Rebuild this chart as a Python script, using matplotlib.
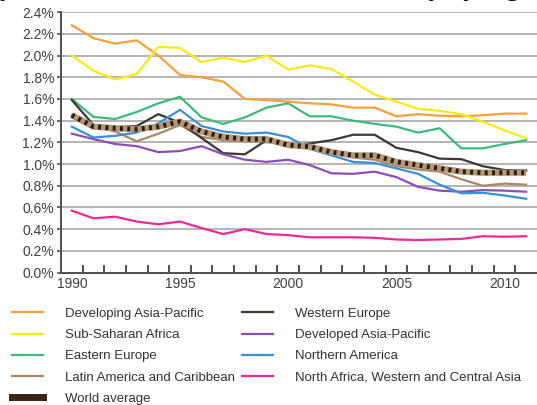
import matplotlib
matplotlib.use('Agg')
import matplotlib.pyplot as plt
from matplotlib.ticker import FixedLocator, FuncFormatter
from matplotlib.lines import Line2D

plt.rcParams['font.family'] = ['Liberation Sans', 'DejaVu Sans']

years = list(range(1990, 2012))

# intensity values, %
dev_asia = [2.28, 2.16, 2.11, 2.14, 2.00, 1.82, 1.80, 1.76, 1.60, 1.59, 1.575,
            1.56, 1.55, 1.52, 1.52, 1.44, 1.46, 1.445, 1.44, 1.45, 1.465, 1.465]
sub_sahara = [2.00, 1.86, 1.78, 1.83, 2.08, 2.07, 1.94, 1.98, 1.94, 2.00, 1.87,
              1.91, 1.875, 1.76, 1.64, 1.575, 1.51, 1.49, 1.46, 1.39, 1.31, 1.24]
east_europe = [1.60, 1.435, 1.415, 1.48, 1.56, 1.62, 1.43, 1.37, 1.43, 1.52, 1.56,
               1.44, 1.44, 1.40, 1.37, 1.345, 1.29, 1.33, 1.145, 1.145, 1.185, 1.22]
latin_am = [1.45, 1.35, 1.30, 1.21, 1.28, 1.36, 1.25, 1.22, 1.21, 1.20, 1.19,
            1.15, 1.11, 1.06, 1.04, 0.98, 0.95, 0.93, 0.86, 0.80, 0.82, 0.81]
west_europe = [1.59, 1.36, 1.34, 1.35, 1.46, 1.38, 1.24, 1.10, 1.09, 1.22, 1.17,
               1.19, 1.22, 1.27, 1.27, 1.15, 1.11, 1.05, 1.045, 0.98, 0.945, 0.94]
developed_asia = [1.28, 1.23, 1.185, 1.165, 1.11, 1.12, 1.165, 1.09, 1.04, 1.02, 1.04,
                  0.99, 0.915, 0.91, 0.93, 0.88, 0.79, 0.755, 0.745, 0.76, 0.755, 0.745]
north_am = [1.345, 1.245, 1.26, 1.29, 1.375, 1.50, 1.35, 1.30, 1.28, 1.29, 1.25,
            1.14, 1.08, 1.02, 1.01, 0.96, 0.91, 0.81, 0.73, 0.735, 0.71, 0.68]
n_africa = [0.57, 0.50, 0.515, 0.47, 0.445, 0.47, 0.41, 0.355, 0.40, 0.355, 0.345,
            0.325, 0.325, 0.325, 0.32, 0.305, 0.30, 0.305, 0.31, 0.335, 0.33, 0.335]
world = [1.45, 1.345, 1.33, 1.32, 1.345, 1.39, 1.30, 1.25, 1.23, 1.23, 1.175,
         1.16, 1.11, 1.08, 1.08, 1.02, 0.99, 0.96, 0.93, 0.92, 0.92, 0.92]

fig = plt.figure(figsize=(5.37, 4.05), dpi=100)
ax = fig.add_axes([0.1136, 0.327, 0.8864, 0.643])

# cut-off heading from the page above the chart
fig.text(0.0, 1.011, 'y been a reduction in emission intensity by region',
         family='Liberation Serif', weight='bold', fontsize=19, va='baseline')

lw = 1.6
series = [
    (dev_asia, '#f7a03c', 'Developing Asia-Pacific'),
    (sub_sahara, '#f6eb16', 'Sub-Saharan Africa'),
    (east_europe, '#3dba7c', 'Eastern Europe'),
    (latin_am, '#a88868', 'Latin America and Caribbean'),
    (west_europe, '#3c3834', 'Western Europe'),
    (developed_asia, '#8a50b6', 'Developed Asia-Pacific'),
    (north_am, '#3a8fd8', 'Northern America'),
    (n_africa, '#ee2a96', 'North Africa, Western and Central Asia'),
]
for vals, c, lab in series:
    ax.plot(years, vals, color=c, lw=lw, zorder=3)

# world average: thick brown band with dark dots
ax.plot(years, world, color='#b39878', lw=4.5, zorder=4, solid_capstyle='butt')
ax.plot(years, world, color='#2a1a10', lw=3.5, zorder=5,
        linestyle=(0, (0.6, 0.9)), dash_capstyle='butt')

ax.set_xlim(1989.5, 2011.5)
ax.set_ylim(0, 2.4)
ax.yaxis.set_major_locator(FixedLocator([i * 0.2 for i in range(13)]))
ax.yaxis.set_major_formatter(FuncFormatter(lambda v, p: '%.1f%%' % v))
ax.xaxis.set_major_locator(FixedLocator([1990, 1995, 2000, 2005, 2010]))
ax.xaxis.set_minor_locator(FixedLocator([y + 0.5 for y in range(1990, 2011)]))
ax.tick_params(axis='x', which='major', length=0, pad=3, labelsize=10, labelcolor='#404040')
ax.tick_params(axis='x', which='minor', direction='in', length=6, width=1.3, color='#404040')
ax.tick_params(axis='y', length=3, width=1.2, color='#555555', pad=2,
               labelsize=10, labelcolor='#404040')
ax.grid(True, axis='y', color='#b4b4b4', lw=1.4)
ax.set_axisbelow(True)
for s in ['top', 'right']:
    ax.spines[s].set_visible(False)
for s in ['left', 'bottom']:
    ax.spines[s].set_color('#505050')
    ax.spines[s].set_linewidth(1.4)

handles = [Line2D([], [], color=c, lw=1.6) for _, c, _ in series[:4]]
handles.append(Line2D([], [], color='#3b2415', lw=5))
handles += [Line2D([], [], color=c, lw=1.6) for _, c, _ in series[4:]]
labels = [l for _, _, l in series[:4]] + ['World average'] + [l for _, _, l in series[4:]]
leg = fig.legend(handles, labels, ncol=2, loc='upper left',
                 bbox_to_anchor=(0.022, 0.240), frameon=False, fontsize=9.5,
                 handlelength=2.35, handletextpad=1.65, columnspacing=0.55,
                 labelspacing=0.68, borderpad=0, borderaxespad=0)
for t in leg.get_texts():
    t.set_color('#333333')

plt.savefig('out.png', dpi=100)
